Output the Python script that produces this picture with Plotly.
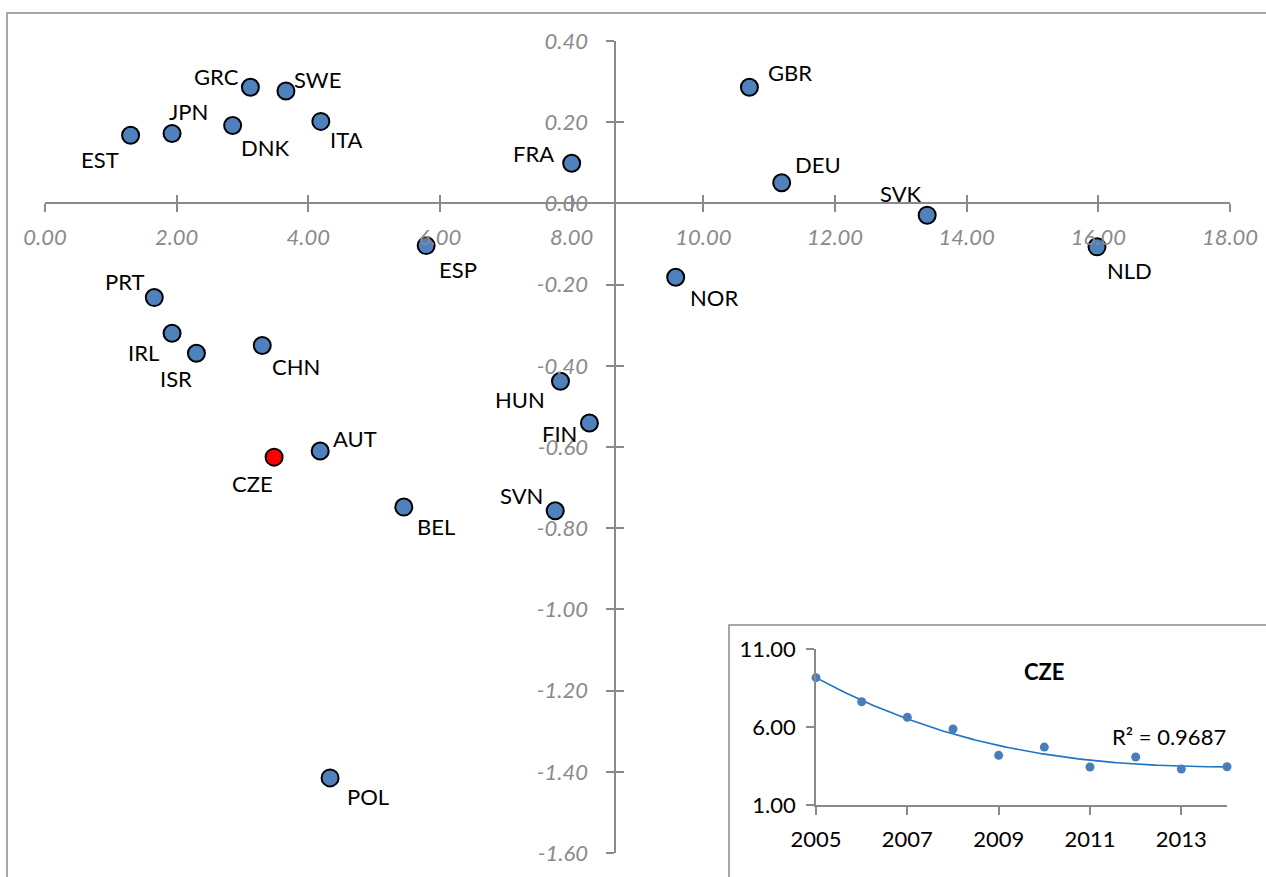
import numpy as np
import plotly.graph_objects as go

# --- main scatter: country positions ---------------------------------------
countries = ["EST", "JPN", "GRC", "SWE", "DNK", "ITA", "FRA", "GBR", "DEU", "SVK",
             "NLD", "ESP", "NOR", "PRT", "IRL", "ISR", "CHN", "HUN", "FIN", "AUT",
             "CZE", "SVN", "BEL", "POL"]
x_vals = [1.30, 1.93, 3.12, 3.66, 2.85, 4.19, 8.00, 10.70, 11.19, 13.40,
          15.98, 5.79, 9.58, 1.66, 1.93, 2.30, 3.30, 7.83, 8.27, 4.18,
          3.48, 7.75, 5.45, 4.33]
y_vals = [0.168, 0.172, 0.286, 0.277, 0.192, 0.202, 0.099, 0.286, 0.051, -0.029,
          -0.107, -0.104, -0.182, -0.232, -0.320, -0.369, -0.350, -0.438, -0.541,
          -0.610, -0.625, -0.757, -0.748, -1.415]
highlight = "CZE"

x_ticks = [0, 2, 4, 6, 8, 10, 12, 14, 16, 18]
y_ticks = [0.40, 0.20, 0.00, -0.20, -0.40, -0.60, -0.80, -1.00, -1.20, -1.40, -1.60]
x_cross = 8.66   # x value where the vertical axis crosses

# --- inset: CZE time series --------------------------------------------------
cze_years = [2005, 2006, 2007, 2008, 2009, 2010, 2011, 2012, 2013, 2014]
cze_values = [9.18, 7.63, 6.63, 5.88, 4.19, 4.72, 3.44, 4.08, 3.31, 3.46]
inset_y_ticks = [1, 6, 11]
inset_x_ticks = [2005, 2007, 2009, 2011, 2013]
r2_text = "R² = 0.9687"

# label placement around each marker (pixel shifts: right, down)
label_shift = {
    "EST": (-31, 24), "JPN": (16, -22), "GRC": (-34, -11), "SWE": (32, -11),
    "DNK": (33, 22), "ITA": (26, 18), "FRA": (-38, -10), "GBR": (41, -15),
    "DEU": (36, -18), "SVK": (-26, -22), "NLD": (32, 24), "ESP": (32, 24),
    "NOR": (38, 20), "PRT": (-30, -16), "IRL": (-29, 19), "ISR": (-20, 25),
    "CHN": (34, 21), "HUN": (-40, 18), "FIN": (-30, 10), "AUT": (35, -13),
    "CZE": (-22, 26), "SVN": (-34, -15), "BEL": (32, 19), "POL": (38, 19),
}

W, H = 1266, 877
FONT = "Lato"
AXIS_GREY = "#8a8a8a"
BLUE = "#4f81bd"


def px_x(p):
    return p / W


def px_y(p):
    return (H - p) / H


# main plot area (pixels)
xdom = [px_x(45), px_x(1230)]
ydom = [px_y(853), px_y(41)]
xr = [min(x_ticks), max(x_ticks)]
yr = [min(y_ticks), max(y_ticks)]
xaxis_pos = ydom[0] + (0 - yr[0]) / (yr[1] - yr[0]) * (ydom[1] - ydom[0])
yaxis_pos = xdom[0] + (x_cross - xr[0]) / (xr[1] - xr[0]) * (xdom[1] - xdom[0])

fig = go.Figure()

colors = ["#ff0000" if c == highlight else BLUE for c in countries]
fig.add_trace(go.Scatter(
    x=x_vals, y=y_vals, mode="markers", cliponaxis=False,
    marker=dict(size=17, color=colors, line=dict(color="#000000", width=2)),
    showlegend=False, hoverinfo="text", text=countries,
))

# helper trace so the overlaid axes (inner tick halves) are drawn
fig.add_trace(go.Scatter(x=[], y=[], xaxis="x2", yaxis="y2", showlegend=False))

# inset trend (3rd-order polynomial fit)
t = np.array(cze_years, dtype=float) - 2005
coef = np.polyfit(t, cze_values, 3)
fine = np.linspace(2005, 2014, 200)
fig.add_trace(go.Scatter(
    x=fine, y=np.polyval(coef, fine - 2005), mode="lines",
    line=dict(color="#1f74c4", width=1.6), xaxis="x3", yaxis="y3",
    showlegend=False, hoverinfo="skip", cliponaxis=False,
))
fig.add_trace(go.Scatter(
    x=cze_years, y=cze_values, mode="markers",
    marker=dict(size=9, color="#4a7ebb"), xaxis="x3", yaxis="y3",
    showlegend=False, cliponaxis=False,
))

for c, xv, yv in zip(countries, x_vals, y_vals):
    dx, dy = label_shift[c]
    fig.add_annotation(x=xv, y=yv, xref="x", yref="y", text=c, showarrow=False,
                       xshift=dx, yshift=-dy,
                       font=dict(family=FONT, size=22, color="#000000"))

fig.add_annotation(x=2010, y=9.56, xref="x3", yref="y3", text="<b>CZE</b>",
                   showarrow=False, font=dict(family=FONT, size=22, color="#000000"))
fig.add_annotation(x=2012.74, y=5.37, xref="x3", yref="y3", text=r2_text,
                   showarrow=False, font=dict(family=FONT, size=22, color="#000000"))

tick_font = dict(family=FONT, size=22, color=AXIS_GREY, style="italic")
fmt = lambda v: f"{v:.2f}"

axis_common = dict(showgrid=False, zeroline=False, automargin=False)
fig.update_layout(
    width=W, height=H, margin=dict(l=0, r=0, t=0, b=0, autoexpand=False),
    paper_bgcolor="white", plot_bgcolor="rgba(0,0,0,0)",
    xaxis=dict(domain=xdom, range=xr, anchor="free", position=xaxis_pos,
               showline=True, linecolor=AXIS_GREY, linewidth=1.5,
               ticks="outside", ticklen=8, tickwidth=1.5, tickcolor=AXIS_GREY,
               tickvals=x_ticks, ticktext=[fmt(v) for v in x_ticks],
               tickfont=tick_font, ticklabelstandoff=6, **axis_common),
    yaxis=dict(domain=ydom, range=yr, anchor="free", position=yaxis_pos,
               showline=True, linecolor=AXIS_GREY, linewidth=1.5,
               ticks="outside", ticklen=8, tickwidth=1.5, tickcolor=AXIS_GREY,
               tickvals=y_ticks, ticktext=[fmt(v) for v in y_ticks],
               tickfont=tick_font, ticklabelstandoff=14, **axis_common),
    xaxis2=dict(domain=xdom, range=xr, overlaying="x", anchor="free",
                position=xaxis_pos, showline=False, ticks="inside", ticklen=8,
                tickwidth=1.5, tickcolor=AXIS_GREY, tickvals=x_ticks,
                showticklabels=False, **axis_common),
    yaxis2=dict(domain=ydom, range=yr, overlaying="y", anchor="free",
                position=yaxis_pos, showline=False, ticks="inside", ticklen=8,
                tickwidth=1.5, tickcolor=AXIS_GREY, tickvals=y_ticks,
                showticklabels=False, **axis_common),
    xaxis3=dict(domain=[px_x(816), px_x(1227)], range=[2005, 2014],
                anchor="y3", showline=True, linecolor=AXIS_GREY, linewidth=1.5,
                ticks="outside", ticklen=8, tickwidth=1.5, tickcolor=AXIS_GREY,
                tickvals=inset_x_ticks, ticktext=[str(v) for v in inset_x_ticks],
                tickfont=dict(family=FONT, size=22, color="#000000"),
                ticklabelstandoff=6, **axis_common),
    yaxis3=dict(domain=[px_y(805), px_y(649.3)], range=[1, 11],
                anchor="x3", showline=True, linecolor=AXIS_GREY, linewidth=1.5,
                ticks="outside", ticklen=8, tickwidth=1.5, tickcolor=AXIS_GREY,
                tickvals=inset_y_ticks, ticktext=[fmt(v) for v in inset_y_ticks],
                tickfont=dict(family=FONT, size=22, color="#000000"),
                ticklabelstandoff=6, **axis_common),
    shapes=[
        dict(type="rect", xref="paper", yref="paper", layer="below",
             x0=px_x(7), y0=-0.02, x1=1.02, y1=px_y(13),
             line=dict(color=AXIS_GREY, width=1.5), fillcolor="rgba(0,0,0,0)"),
        dict(type="rect", xref="paper", yref="paper", layer="below",
             x0=px_x(729), y0=-0.02, x1=1.02, y1=px_y(625),
             line=dict(color=AXIS_GREY, width=1.5), fillcolor="white"),
    ],
)

fig.write_html("out.html")
